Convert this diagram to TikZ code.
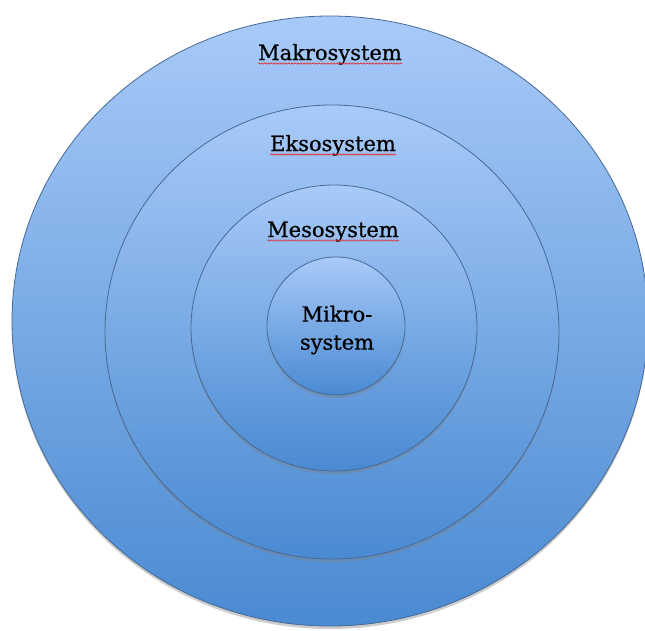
\documentclass[tikz,border=0pt]{standalone}
\usepackage{fontspec}
\setmainfont{DejaVu Serif}
\usetikzlibrary{shapes.geometric,shadows,decorations.pathmorphing}
\definecolor{skytop}{RGB}{168,202,248}
\definecolor{skybot}{RGB}{74,138,210}
\definecolor{rimblue}{RGB}{70,106,150}
\definecolor{squiggle}{RGB}{225,40,40}
\tikzset{
  ring/.style={circle,draw=rimblue,line width=0.8pt,top color=skytop,bottom color=skybot,
    inner sep=0pt,minimum size=#1,
    drop shadow={shadow xshift=0pt,shadow yshift=-3pt,opacity=0.4}},
  lbl/.style={font=\fontsize{21}{28}\selectfont\addfontfeature{FakeBold=0.6},text=black,
    anchor=base,inner sep=0pt},
  spell/.style={draw=squiggle,line width=0.6pt,decorate,
    decoration={snake,amplitude=0.7pt,segment length=3pt}}
}

\begin{document}
\begin{tikzpicture}[x=1pt,y=-1pt]
  \useasboundingbox (0,0) rectangle (645,630);
  % the four nested systems
  \node[ring=636pt,ellipse,minimum height=610pt] (makro) at (330,321) {};
  \node[ring=454pt] (ekso) at (332,332) {};
  \node[ring=286pt] (meso) at (334,328) {};
  \node[ring=138pt] (mikro) at (336,326) {};
  % labels
  \node[lbl] (lmakro) at (330,60) {Makrosystem};
  \node[lbl] (lekso) at (333,151) {Eksosystem};
  \node[lbl] (lmeso) at (333,237) {Mesosystem};
  \node[lbl,anchor=center,align=center] (lmikro) at (337,330) {Mikro-\\system};
  \foreach \l in {lmakro,lekso,lmeso}
    \draw[spell] ([yshift=-3.5pt]\l.base west) -- ([yshift=-3.5pt]\l.base east);
\end{tikzpicture}
\end{document}
